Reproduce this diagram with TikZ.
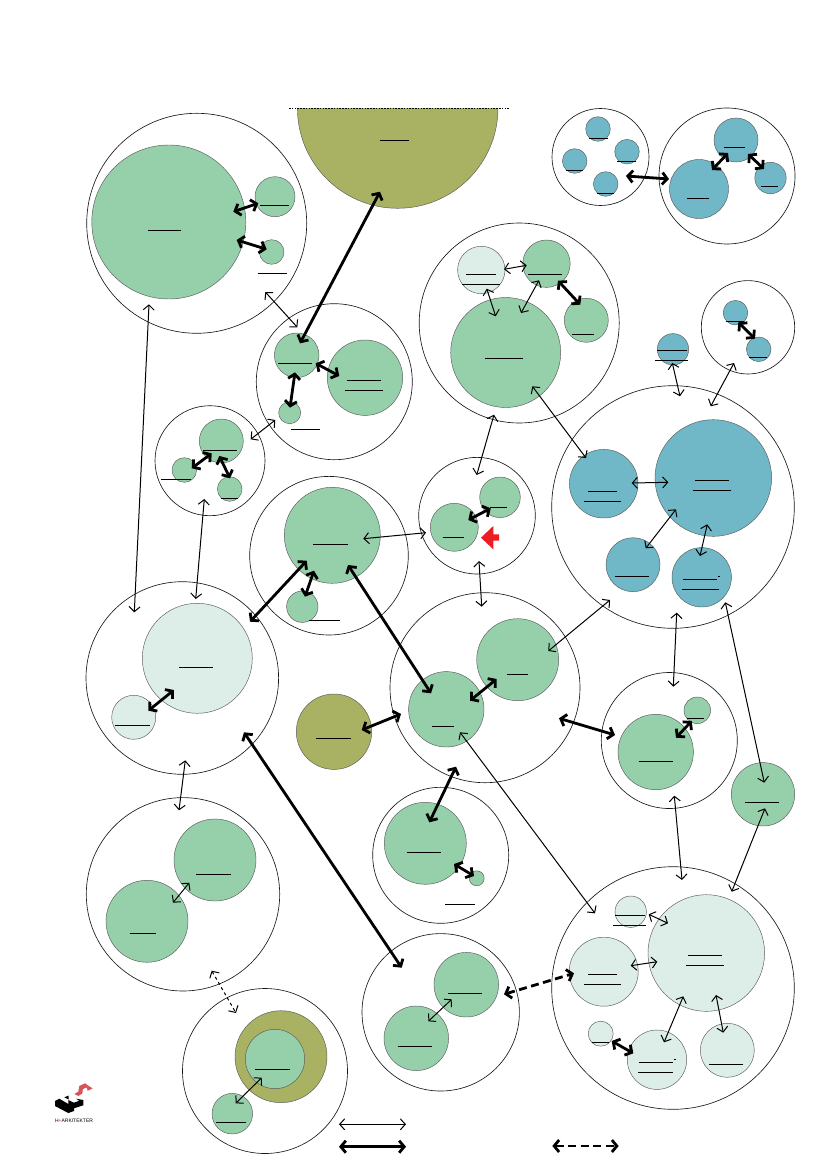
\documentclass[tikz,border=0pt]{standalone}
\usepackage{fontspec}
\setmainfont{Liberation Sans}
\usetikzlibrary{arrows.meta}
\definecolor{cgreen}{HTML}{96D0AA}
\definecolor{cpale}{HTML}{DCEEE7}
\definecolor{cblue}{HTML}{70B8C7}
\definecolor{colive}{HTML}{A9B162}
\definecolor{cedge}{HTML}{5A5A5A}
\definecolor{cred}{HTML}{ED1C24}
\definecolor{clogo}{HTML}{D8545A}
\tikzset{
  outerc/.style={circle,inner sep=0pt,draw=black!90,line width=0.65pt,fill=white},
  greenc/.style={circle,inner sep=0pt,draw=cedge,line width=0.45pt,fill=cgreen},
  palec/.style={circle,inner sep=0pt,draw=cedge,line width=0.45pt,fill=cpale},
  bluec/.style={circle,inner sep=0pt,draw=cedge,line width=0.45pt,fill=cblue},
  olivec/.style={circle,inner sep=0pt,draw=cedge,line width=0.45pt,fill=colive},
  lineu/.style={line width=0.75pt,black},
  thinarrow/.style={line width=1pt,black,{Straight Barb[length=5pt,width=11pt,line width=1pt]}-{Straight Barb[length=5pt,width=11pt,line width=1pt]}},
  thickarrow/.style={line width=2.8pt,black,{Straight Barb[length=5pt,width=12pt,line width=2.8pt]}-{Straight Barb[length=5pt,width=12pt,line width=2.8pt]}},
  dashthin/.style={thinarrow,dash pattern=on 3pt off 3pt},
  dashthick/.style={thickarrow,dash pattern=on 8pt off 4.5pt},
}
\newcommand{\ball}[5]{\node[#1,minimum size=#5*2pt] (#2) at (#3,#4) {};}
\newcommand{\ulin}[3]{\draw[lineu] (#1,#3) -- (#2,#3);}
\newcounter{conn}
\newcommand{\conn}[5]{\stepcounter{conn}%
  \coordinate (s\theconn) at (#2,#3);\coordinate (e\theconn) at (#4,#5);%
  \draw[#1] (s\theconn) -- (e\theconn);}
\begin{document}
\begin{tikzpicture}[x=1pt,y=-1pt]
\useasboundingbox (0,0) rectangle (827,1169);
\fill[white] (0,0) rectangle (827,1169);
% outer circles
\ball{outerc}{oa}{196.7}{223.3}{110}
\ball{outerc}{ob}{600.5}{157}{48.5}
\ball{outerc}{oc}{727}{176}{68}
\ball{outerc}{od}{519.2}{323}{100}
\ball{outerc}{oe}{748}{327.3}{46.7}
\ball{outerc}{of}{673}{507}{121.3}
\ball{outerc}{og}{334.3}{381.7}{78}
\ball{outerc}{oh}{210}{460.7}{55}
\ball{outerc}{oi}{329}{555.7}{79.3}
\ball{outerc}{oj}{477}{515.7}{58.3}
\ball{outerc}{ok}{182.3}{678}{96.3}
\ball{outerc}{ol}{485}{687.7}{95}
\ball{outerc}{om}{669.3}{740.5}{68}
\ball{outerc}{on}{183}{894.3}{96.7}
\ball{outerc}{oo}{440.7}{855.3}{68}
\ball{outerc}{op}{440.7}{1012.3}{78.7}
\ball{outerc}{oq}{265}{1071}{82.5}
\ball{outerc}{or}{673}{988}{121.3}
% olive half circle
\begin{scope}
\clip (280,108.3) rectangle (520,230);
\ball{olivec}{halfolive}{397.7}{108}{100.3}
\end{scope}
\draw[line width=0.8pt,dash pattern=on 1.6pt off 1.2pt] (289,108.3) -- (510,108.3);
% inner circles
\ball{greenc}{a1}{168.8}{222}{77}
\ball{greenc}{a2}{275}{196.7}{20}
\ball{greenc}{a3}{271.7}{252}{12.3}
\ball{bluec}{b1}{598}{129}{12.3}
\ball{bluec}{b2}{574.7}{161}{12.3}
\ball{bluec}{b3}{627}{151.7}{12.3}
\ball{bluec}{b4}{605.7}{184}{12.3}
\ball{bluec}{c1}{736}{140}{22}
\ball{bluec}{c2}{699}{189}{29.5}
\ball{bluec}{c3}{770.5}{178}{15.7}
\ball{palec}{d1}{481.3}{270}{23.7}
\ball{greenc}{d2}{546.5}{263.7}{23.7}
\ball{greenc}{d3}{586.3}{320.3}{22}
\ball{greenc}{d4}{505.7}{352.5}{55}
\ball{bluec}{solo}{673}{349.3}{15.7}
\ball{bluec}{e1}{735.5}{312.7}{12.3}
\ball{bluec}{e2}{758.7}{349.3}{12.3}
\ball{bluec}{f1}{603.7}{483.7}{34.3}
\ball{bluec}{f2}{713.3}{478}{58.3}
\ball{bluec}{f3}{633}{564.7}{27}
\ball{bluec}{f4}{701.7}{577.3}{29.7}
\ball{greenc}{g1}{296.7}{355.3}{22.3}
\ball{greenc}{g2}{365}{377.7}{37.7}
\ball{greenc}{g3}{289.7}{412.7}{11}
\ball{greenc}{h1}{221.3}{441}{22}
\ball{greenc}{h2}{184.3}{470}{12.3}
\ball{greenc}{h3}{229.7}{489}{12.3}
\ball{greenc}{i1}{332.3}{535.3}{48}
\ball{greenc}{i2}{302.3}{606.7}{15.7}
\ball{greenc}{j1}{454.3}{527.3}{24}
\ball{greenc}{j2}{500}{497.3}{20.3}
\ball{palec}{k1}{197.3}{658.3}{55}
\ball{palec}{k2}{133.7}{717.3}{22}
\ball{olivec}{solob}{334}{731.7}{37.7}
\ball{greenc}{l1}{517.7}{659.7}{41}
\ball{greenc}{l2}{446.3}{709.3}{37.7}
\ball{greenc}{m1}{697.3}{710.3}{13.3}
\ball{greenc}{m2}{655.7}{752}{37.7}
\ball{greenc}{soloc}{763}{794.3}{31.7}
\ball{greenc}{n1}{215}{860}{41}
\ball{greenc}{n2}{147}{921.3}{41}
\ball{greenc}{o1}{425.3}{843.3}{41}
\ball{greenc}{o2}{476.7}{878.3}{7.5}
\ball{greenc}{p1}{466.3}{984.7}{32.3}
\ball{greenc}{p2}{416.3}{1038.3}{32.3}
\ball{olivec}{q1}{281}{1056.7}{46}
\ball{greenc}{q2}{275}{1059}{29.7}
\ball{greenc}{q3}{232.3}{1113.7}{20.3}
\ball{palec}{r1}{630.7}{911.7}{15.7}
\ball{palec}{r2}{706.3}{953}{58.3}
\ball{palec}{r3}{603.7}{971.7}{34.5}
\ball{palec}{r4}{600.7}{1033.7}{12.5}
\ball{palec}{r5}{657}{1059.7}{29.7}
\ball{palec}{r6}{727.3}{1050.3}{27}
% underlines
\ulin{147.7}{181}{230.3}\ulin{260}{289}{205.3}\ulin{257.7}{287}{273.3}
\ulin{380}{408.7}{140.3}
\ulin{589}{608}{138}\ulin{566}{583}{170}\ulin{617}{636}{161}\ulin{597}{614}{193}
\ulin{724}{745}{147}\ulin{687}{709}{198}\ulin{761}{778}{186}
\ulin{466}{496}{274.3}\ulin{462}{500}{284.3}\ulin{528}{562}{274.3}\ulin{572}{594}{334.3}\ulin{485}{523}{358.3}
\ulin{657}{687}{350.3}\ulin{655}{688}{360.3}\ulin{726}{744}{321.3}\ulin{749}{767}{357.3}
\ulin{588}{617}{491.3}\ulin{584}{621}{501.3}\ulin{695}{729}{480.3}\ulin{693}{731}{490.3}
\ulin{614.7}{649}{576.3}\ulin{683}{717.3}{579.3}\ulin{717.5}{720}{576}\ulin{681.7}{719}{589.3}
\ulin{278}{312}{363.3}\ulin{346.7}{381}{380.3}\ulin{345}{382.7}{390.3}\ulin{290.7}{320.3}{429.3}
\ulin{202.7}{237.3}{450.3}\ulin{161}{190.7}{479.3}\ulin{221}{237.7}{498.3}
\ulin{313.3}{347.7}{544.3}\ulin{309.3}{340}{620.3}
\ulin{442.7}{464}{537.3}\ulin{490}{507}{507.3}
\ulin{179}{213}{667.3}\ulin{115}{149.7}{725.3}\ulin{316.3}{350.7}{738.3}
\ulin{507}{528.3}{674.3}\ulin{432}{454}{726.3}
\ulin{687.3}{704.3}{718.3}\ulin{638.7}{673}{761}\ulin{745}{779}{802}
\ulin{196}{231}{874.3}\ulin{129.7}{156.3}{933.3}
\ulin{406.7}{441}{852.3}\ulin{445.3}{474.7}{904.3}
\ulin{448}{482.3}{993}\ulin{397.7}{431.7}{1046.3}
\ulin{255}{289.7}{1069.3}\ulin{216}{245.7}{1122.3}
\ulin{615}{645}{915}\ulin{613.3}{646}{925.3}\ulin{687.7}{722.3}{955.3}\ulin{686}{724}{965.3}
\ulin{588}{617.3}{974.3}\ulin{584}{621.3}{984.3}\ulin{592}{608.7}{1042.3}
\ulin{638.7}{673.3}{1062.3}\ulin{673.5}{676}{1059}\ulin{638}{673.3}{1072.3}\ulin{709.3}{743}{1064}
% thick connectors
\conn{thickarrow}{233.3}{211.7}{258.3}{203.3}
\conn{thickarrow}{236.7}{240}{266.7}{249.3}
\conn{thickarrow}{380}{191.7}{300}{343.3}
\conn{thickarrow}{626}{176}{669}{179}
\conn{thickarrow}{712}{170}{728}{153}
\conn{thickarrow}{748}{154}{764}{169}
\conn{thickarrow}{558}{280.7}{580.3}{304.7}
\conn{thickarrow}{738.3}{322.3}{755}{338.7}
\conn{thickarrow}{315.7}{363.3}{339.3}{376}
\conn{thickarrow}{295}{372.3}{290}{407.7}
\conn{thickarrow}{191.7}{468.3}{211.7}{453.3}
\conn{thickarrow}{219.3}{456}{230}{478.3}
\conn{thickarrow}{306.7}{560.7}{250}{621.7}
\conn{thickarrow}{314}{570.7}{305}{596.7}
\conn{thickarrow}{348}{565}{431}{693.3}
\conn{thickarrow}{468.3}{520}{490.7}{508.3}
\conn{thickarrow}{148.3}{710.7}{174}{690}
\conn{thickarrow}{361.7}{730}{401}{714}
\conn{thickarrow}{244}{732.3}{401.7}{967.7}
\conn{thickarrow}{470}{700.7}{496.7}{679}
\conn{thickarrow}{559}{718.3}{615}{735}
\conn{thickarrow}{676}{737.7}{691.7}{721}
\conn{thickarrow}{456}{766.7}{429.3}{822.3}
\conn{thickarrow}{454}{864}{474}{876}
\conn{thickarrow}{611.7}{1041}{633.3}{1053.3}
% thin connectors
\conn{thinarrow}{265.3}{292}{297.3}{327.3}
\conn{thinarrow}{149}{304.3}{134.3}{612.3}
\conn{thinarrow}{275.3}{420}{250.7}{439.3}
\conn{thinarrow}{504}{269.3}{526.7}{265.3}
\conn{thinarrow}{486.7}{288.7}{495.7}{316.3}
\conn{thinarrow}{539}{280.3}{521}{313}
\conn{thinarrow}{532.3}{386.3}{586}{458}
\conn{thinarrow}{672.3}{363}{680}{396.3}
\conn{thinarrow}{734}{363}{710.7}{406.3}
\conn{thinarrow}{494}{414.7}{476.7}{475}
\conn{thinarrow}{631.7}{483}{668.3}{482.3}
\conn{thinarrow}{676}{509.3}{645.7}{548.3}
\conn{thinarrow}{707.3}{524.3}{700}{556}
\conn{thinarrow}{610}{600}{548.3}{651}
\conn{thinarrow}{676.7}{612.7}{673.3}{686.7}
\conn{thinarrow}{725.3}{602.3}{764.3}{782.7}
\conn{thinarrow}{204.3}{499}{195.7}{599}
\conn{thinarrow}{363.3}{538.7}{426}{532.7}
\conn{thinarrow}{479}{561}{481.7}{606.7}
\conn{thinarrow}{185.3}{760.3}{179}{810.3}
\conn{thinarrow}{189.3}{882.7}{173}{902.7}
\conn{thinarrow}{460}{732.3}{595}{913.3}
\conn{thinarrow}{674.3}{795.7}{682}{880}
\conn{thinarrow}{765}{808.3}{731.7}{891.7}
\conn{thinarrow}{451.7}{999.3}{428.3}{1021.3}
\conn{thinarrow}{261.7}{1077.7}{235.7}{1103.3}
\conn{thinarrow}{648.7}{914.3}{668}{923.3}
\conn{thinarrow}{630.7}{965.7}{657.3}{961.7}
\conn{thinarrow}{683.3}{996.3}{664}{1042.3}
\conn{thinarrow}{716}{995}{723.3}{1032.7}
% dashed connectors
\conn{dashthin}{211.7}{970.7}{236}{1013}
\conn{dashthick}{504}{994.3}{574}{973.3}
% legend
\conn{thinarrow}{339}{1124.3}{406}{1124.3}
\conn{thickarrow}{339}{1146.7}{406}{1146.7}
\conn{dashthick}{552.3}{1146}{618.7}{1146}
% red marker
\fill[cred] (481,537.7) -- (493.3,526) -- (493.3,534.3) -- (499,534.3) -- (499,540.7) -- (493.3,540.7) -- (493.3,549.3) -- cycle;
% logo
\fill[clogo] (74.3,1094) -- (78.3,1091.7) -- (79.3,1086) -- (85,1083.3) -- (88.3,1085.7) -- (92.7,1088.3) -- (87.7,1090.8) -- (86.7,1087.5) -- (82.9,1089) -- (82.3,1093.5) -- (78.3,1096) -- cycle;
\fill[black] (64.3,1097.3) -- (68.7,1095.5) -- (68.7,1099.5) -- cycle;
\fill[black] (55,1101) -- (59.3,1098.7) -- (68.3,1104) -- (68.3,1100) -- (74,1102.7) -- (79.3,1100.7) -- (76,1098.7) -- (83.3,1100) -- (83.3,1105.3) -- (74,1108.3) -- (74,1111) -- (68.3,1113) -- (55,1106) -- cycle;
\node[inner sep=0pt,font=\fontsize{5}{5}\selectfont,text=black] (logotext) at (74,1121) {H{\textcolor{cred}{+}}ARKITEKTER};
\end{tikzpicture}
\end{document}
